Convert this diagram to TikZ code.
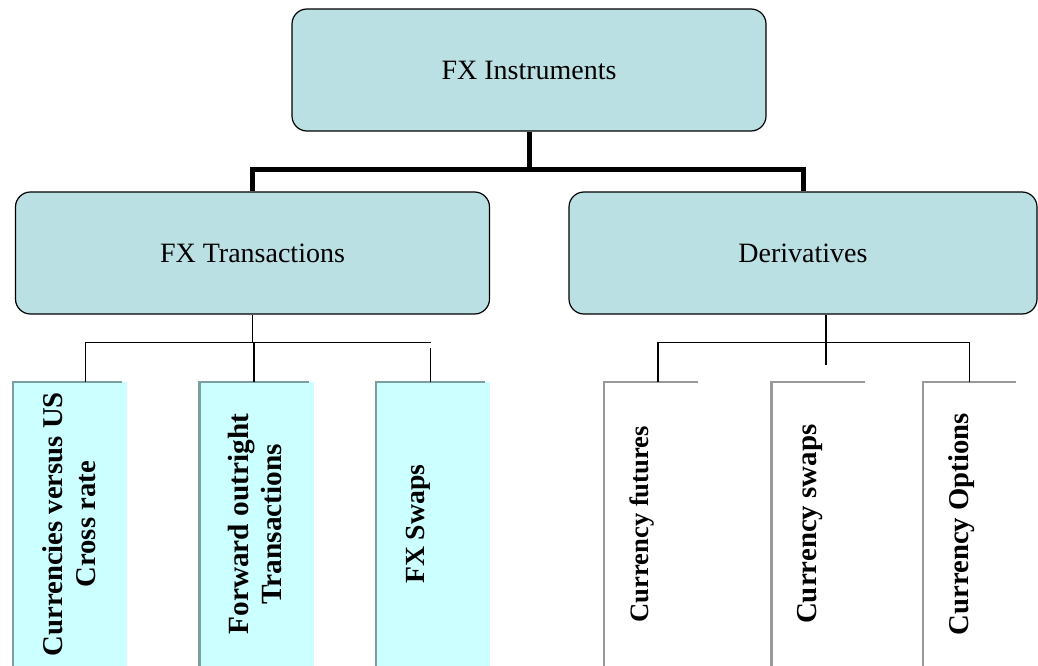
\documentclass[tikz,border=0pt]{standalone}
\usepackage{fontspec}
\setmainfont{Liberation Serif}
\usepackage{tikz}
\usetikzlibrary{positioning}
\usetikzlibrary{calc}
\definecolor{boxblue}{RGB}{186,224,227}
\definecolor{leafcyan}{RGB}{204,255,255}
\definecolor{leafteal}{RGB}{125,158,158}
\definecolor{leafgray}{RGB}{153,153,153}

\begin{document}
\begin{tikzpicture}[x=1pt,y=-1pt,line join=miter,node distance=77pt,
  lbl/.style={rotate=90,align=center,font=\bfseries\fontsize{#1}{33}\selectfont}]
\tikzstyle{main}=[draw,line width=1.2pt,rounded corners=15pt,fill=boxblue,minimum width=474pt,minimum height=122pt,font=\fontsize{28}{33}\selectfont]
\tikzstyle{leaf}=[minimum height=284pt,minimum width=109pt,inner sep=0pt]
\tikzstyle{trunk}=[line width=5pt]
\tikzstyle{twig}=[line width=1.3pt]
\tikzstyle{tealedge}=[draw=leafteal,line width=2.5pt]
\tikzstyle{grayedge}=[draw=leafgray,line width=2.5pt]
\useasboundingbox (0,0) rectangle (1038,666);
\node[main]	(FXI)	at (529,70)		{FX Instruments};
\node[main]	(FXT)	at (252.5,253)		{FX Transactions};
\node[main,minimum width=468pt]	(DER)	at (803,253)	{Derivatives};
\node[leaf,anchor=north west]	(L1)	at (13,382)	{};
\node[leaf]	(L2)	[right= of L1]			{};
\node[leaf]	(L3)	[right=67pt of L2]		{};
\node[leaf,minimum width=93pt]	(L4)	[right=119pt of L3]	{};
\node[leaf,minimum width=93pt]	(L5)	[right=74pt of L4]	{};
\node[leaf,minimum width=93pt]	(L6)	[right=58pt of L5]	{};
% leaf boxes
\foreach \n in {L1,L2,L3}{
  \fill[leafcyan] (\n.north west) rectangle ([xshift=5pt]\n.south east);
  \draw[tealedge] (\n.south west) |- (\n.north east);
}
\foreach \n in {L4,L5,L6}
  \draw[grayedge] (\n.south west) |- (\n.north east);
\node[lbl=28.7]	(T1)	at ([xshift=1pt]L1.center)		{Currencies versus US\\Cross rate};
\node[lbl=29.3]	(T2)	at ([xshift=1pt]L2.center)		{Forward outright\\Transactions};
\node[lbl=27.7]	(T3)	at ([xshift=-12pt]L3.center)	{FX Swaps};
\node[lbl=26.6]	(T4)	at ([xshift=-9pt]L4.center)		{Currency futures};
\node[lbl=28.9]	(T5)	at ([xshift=-8pt]L5.center)		{Currency swaps};
\node[lbl=28.7]	(T6)	at ([xshift=-8pt]L6.center)		{Currency Options};
% connectors
\draw[trunk] (FXI.south) -- ++(0,38) coordinate (hub);
\draw[trunk] (FXT.north) |- (hub) -| (DER.north);
\draw[twig] (FXT.south) -- ++(0,28) coordinate (fxbus);
\draw[twig] ([xshift=18pt]L1.north) |- (fxbus) -| (L2.north);
\draw[twig] (fxbus) -- (fxbus -| L3.north);
\draw[twig] ($(fxbus -| L3.north)+(0,5)$) -- (L3.north);
\draw[twig] ([xshift=23pt]DER.south) -- ++(0,28) coordinate (dvbus) -- ++(0,22);
\draw[twig] ([xshift=7pt]L4.north) |- (dvbus) -| (L6.north);
\end{tikzpicture}
\end{document}
